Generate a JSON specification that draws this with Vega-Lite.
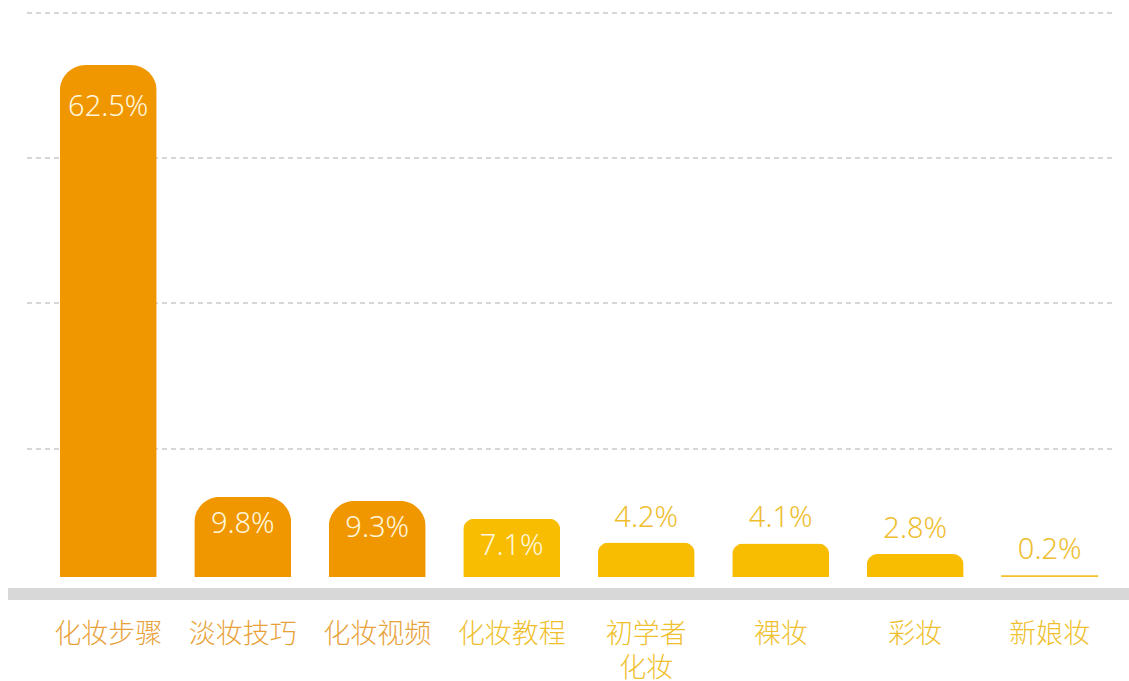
{
  "$schema": "https://vega.github.io/schema/vega-lite/v6.json",
  "width": 1121,
  "height": 600,
  "autosize": {"type": "none"},
  "padding": {"left": 8, "top": 0, "right": 0, "bottom": 81},
  "background": "#ffffff",
  "config": {"view": {"stroke": null}, "font": "Noto Sans CJK SC"},
  "datasets": {
    "bars": [
      {"term": "化妆步骤", "value": 62.5},
      {"term": "淡妆技巧", "value": 9.8},
      {"term": "化妆视频", "value": 9.3},
      {"term": "化妆教程", "value": 7.1},
      {"term": "初学者化妆", "value": 4.2},
      {"term": "裸妆", "value": 4.1},
      {"term": "彩妆", "value": 2.8},
      {"term": "新娘妆", "value": 0.2}
    ],
    "grid": [
      {"level": 15.63},
      {"level": 33.46},
      {"level": 51.16},
      {"level": 68.86}
    ]
  },
  "resolve": {"scale": {"x": "independent"}},
  "layer": [
    {
      "data": {"name": "grid"},
      "mark": {"type": "rule", "color": "#c9c9c9", "strokeWidth": 1.5, "strokeDash": [5, 4]},
      "encoding": {
        "y": {"field": "level", "type": "quantitative", "scale": {"domain": [-2.81, 70.45], "nice": false, "zero": false}, "axis": null},
        "x": {"datum": 19, "type": "quantitative", "scale": {"domain": [0, 1121], "nice": false, "zero": false}, "axis": null},
        "x2": {"datum": 1107}
      }
    },
    {
      "data": {"name": "grid"},
      "mark": {"type": "rule", "color": "#d8d8d8", "strokeWidth": 12},
      "encoding": {"y": {"datum": -2.08, "type": "quantitative"}}
    },
    {
      "data": {"name": "bars"},
      "transform": [{"calculate": "format(datum.value, '.1f') + '%'", "as": "lbl"}],
      "layer": [
        {
          "transform": [{"filter": "datum.value > 9"}],
          "mark": {"type": "bar", "color": "#f09700", "cornerRadiusTopLeft": 26, "cornerRadiusTopRight": 26},
          "encoding": {"y": {"field": "value", "type": "quantitative"}}
        },
        {
          "transform": [{"filter": "datum.value <= 9 && datum.value > 1"}],
          "mark": {"type": "bar", "color": "#f8bd00", "cornerRadiusTopLeft": 11, "cornerRadiusTopRight": 11},
          "encoding": {"y": {"field": "value", "type": "quantitative"}}
        },
        {
          "transform": [{"filter": "datum.value <= 1"}],
          "mark": {"type": "bar", "color": "#f3c12a"},
          "encoding": {"y": {"field": "value", "type": "quantitative"}}
        },
        {
          "transform": [{"filter": "datum.value > 50"}],
          "mark": {"type": "text", "font": "Noto Sans", "color": "#fff6dc", "fontSize": 29, "fontWeight": 300, "baseline": "middle", "dy": 42},
          "encoding": {"y": {"field": "value", "type": "quantitative"}, "text": {"field": "lbl"}}
        },
        {
          "transform": [{"filter": "datum.value > 5 && datum.value < 50"}],
          "mark": {"type": "text", "font": "Noto Sans", "color": "#fff6dc", "fontSize": 29, "fontWeight": 300, "baseline": "middle", "dy": 27},
          "encoding": {"y": {"field": "value", "type": "quantitative"}, "text": {"field": "lbl"}}
        },
        {
          "transform": [{"filter": "datum.value < 5"}],
          "mark": {"type": "text", "font": "Noto Sans", "color": "#eebe30", "fontSize": 29, "fontWeight": 300, "baseline": "middle", "dy": -25},
          "encoding": {"y": {"field": "value", "type": "quantitative"}, "text": {"field": "lbl"}}
        }
      ],
      "encoding": {
        "x": {
          "field": "term",
          "type": "nominal",
          "sort": null,
          "scale": {"paddingInner": 0.279, "paddingOuter": 0.307, "align": 0.627},
          "axis": {
            "title": null,
            "domain": false,
            "ticks": false,
            "tickSize": 0,
            "labelAngle": 0,
            "labelFontSize": 27,
            "labelFontWeight": 300,
            "labelBaseline": "top",
            "labelPadding": 21,
            "labelLineHeight": 34,
            "labelExpr": "datum.value == '初学者化妆' ? ['初学者', '化妆'] : datum.value",
            "labelColor": {"condition": {"test": "indexof(['化妆步骤', '淡妆技巧', '化妆视频'], datum.value) >= 0", "value": "#e8a23a"}, "value": "#efbf2e"}
          }
        }
      }
    }
  ]
}
